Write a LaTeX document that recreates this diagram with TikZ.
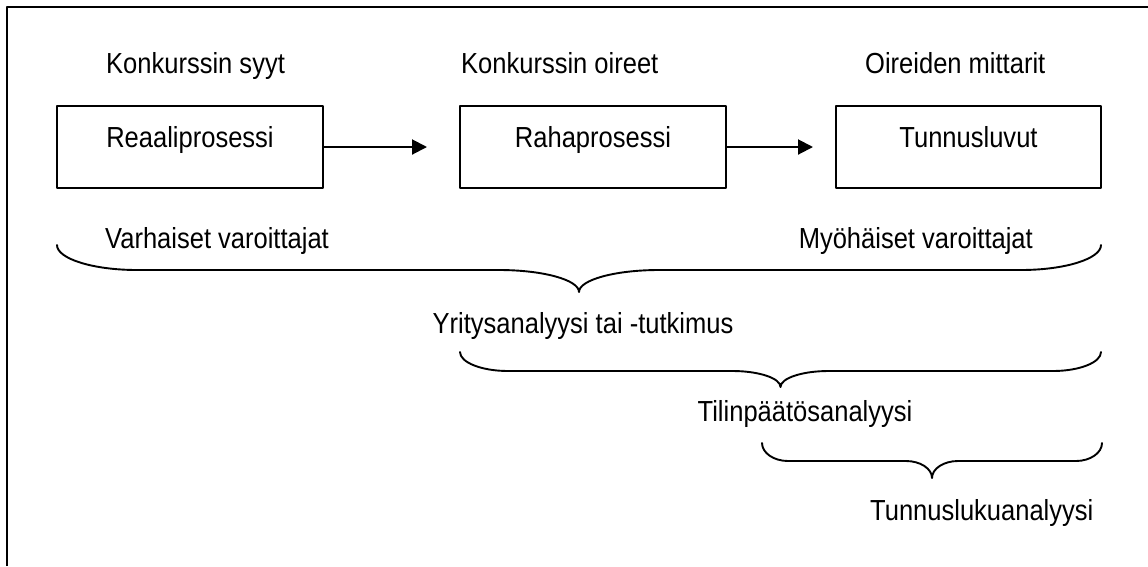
\documentclass[tikz,border=0pt]{standalone}
\usepackage{fontspec}
\setmainfont{Liberation Sans}[FakeStretch=0.88]
\usetikzlibrary{arrows.meta}

% Word-style curly brace: x1, x2, y of ends, y of flat part, y of tip, hook length
\newcommand{\wbrace}[6]{%
  \draw[brace line] (#1,#3) .. controls (#1,{#3+0.55*(#4-#3)}) and ({#1+0.45*#6},#4) .. ({#1+#6},#4)
    -- ({(#1+#2)/2-#6},#4) .. controls ({(#1+#2)/2-0.45*#6},#4) and ({(#1+#2)/2},{#5-0.55*(#5-#4)}) .. ({(#1+#2)/2},#5)
    .. controls ({(#1+#2)/2},{#5-0.55*(#5-#4)}) and ({(#1+#2)/2+0.45*#6},#4) .. ({(#1+#2)/2+#6},#4)
    -- ({#2-#6},#4) .. controls ({#2-0.45*#6},#4) and (#2,{#3+0.55*(#4-#3)}) .. (#2,#3);}

\begin{document}
\begin{tikzpicture}[x=1pt, y=-1pt, line cap=round, line join=round, font=\fontsize{29}{34}\selectfont, >={Triangle[length=15pt,width=15pt]}]
	\tikzset{box style/.style={draw, line width=1.3pt, minimum width=266pt, minimum height=82pt, inner sep=0pt, text height=20pt, text depth=20pt}}
	\tikzset{label style/.style={inner sep=0pt}}
	\tikzset{brace line/.style={line width=1.9pt}}
	\useasboundingbox (0,0) rectangle (1148,566);
	\draw[line width=2pt, line cap=butt] (7,566) -- (7,7) -- (1148,7);
	% upper row
	\node[label style, anchor=base west] (syyt) at (106,73.5) {Konkurssin syyt};
	\node[label style, anchor=base west] (oireet) at (461,73.5) {Konkurssin oireet};
	\node[label style, anchor=base west] (mittarit) at (865,73.5) {Oireiden mittarit};
	\node[box style] (reaali) at (190,147) {Reaaliprosessi};
	\node[box style] (raha) at (593,147) {Rahaprosessi};
	\node[box style, minimum width=265pt] (tunnus) at (968.5,147) {Tunnusluvut};
	\coordinate (kark1) at (427,147);
	\coordinate (kark2) at (813,147);
	\draw[->, line width=2pt] (reaali) -- (kark1);
	\draw[->, line width=2pt] (raha) -- (kark2);
	% braces
	\node[label style, anchor=base west] (varhaiset) at (105,248) {Varhaiset varoittajat};
	\node[label style, anchor=base east] (myohaiset) at (1033,248) {Myöhäiset varoittajat};
	\wbrace{57}{1101}{245}{270}{292}{80}
	\node[label style, anchor=base] (yritys) at (583,333) {Yritysanalyysi tai -tutkimus};
	\wbrace{460}{1101}{352}{371}{387}{48}
	\node[label style, anchor=base] (tilinpaatos) at (805,421) {Tilinpäätösanalyysi};
	\wbrace{762}{1102}{443}{461}{478}{26}
	\node[label style, anchor=base west] (tunnusluku) at (870,520) {Tunnuslukuanalyysi};
\end{tikzpicture}
\end{document}
